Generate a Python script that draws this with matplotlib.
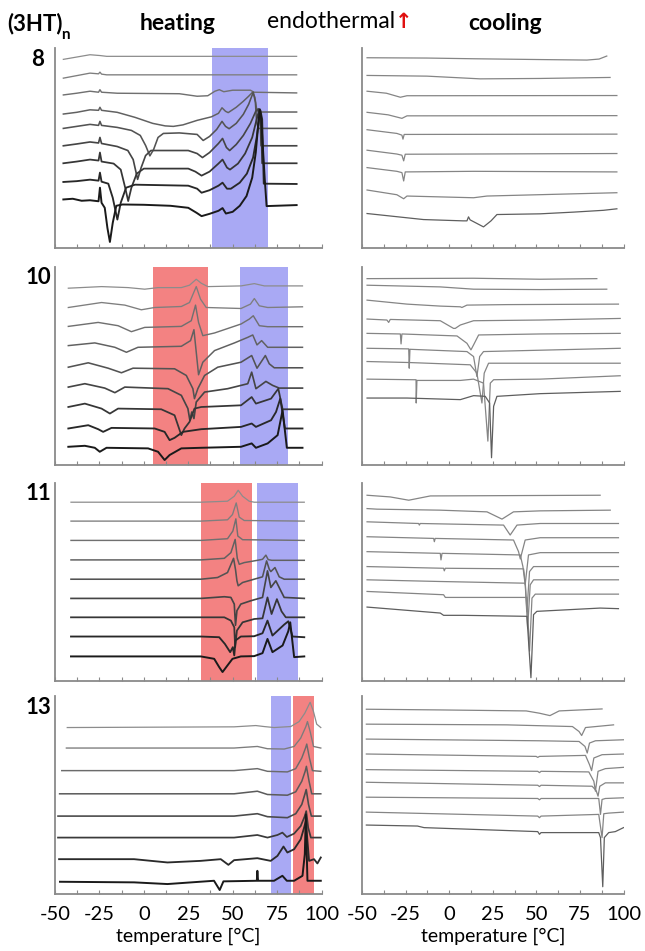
import numpy as np
import matplotlib
matplotlib.use("Agg")
import matplotlib.pyplot as plt

# DSC traces: each trace is a list of (temperature [C], heat flow [a.u., offset])
heat_8 = [
    [(-45.3,187.7),(-37.8,190.0),(-30.3,192.3),(-24.7,191.5),(-20.9,190.7),(86.0,190.7)],
    [(-45.3,169.0),(-37.8,171.5),(-30.3,174.0),(-25.5,173.3),(-24.7,175.0),(-23.8,173.0),(-20.9,172.3),(86.0,172.3)],
    [(-45.3,152.3),(-37.8,154.0),(-30.3,156.0),(-25.5,155.0),(-24.7,157.5),(-23.8,155.0),(-15.0,154.0),(20.0,153.5),
     (30.0,151.0),(36.0,151.5),(40.0,156.0),(42.5,157.5),(45.0,155.5),(50.0,157.0),(60.0,157.0),(62.0,155.0),(86.0,154.3)],
    [(-45.3,133.3),(-37.8,135.0),(-30.3,137.5),(-25.5,137.0),(-24.7,140.0),(-23.8,137.0),(-15.0,135.0),(-5.0,130.0),
     (5.0,124.0),(12.0,121.5),(16.6,121.0),(22.0,122.5),(30.0,127.0),(38.0,130.5),(42.0,134.0),(44.0,139.5),(46.0,136.0),
     (47.5,134.7),(52.0,140.0),(56.0,146.0),(59.0,151.0),(61.2,155.0),(62.5,150.0),(63.5,138.0),(64.5,135.3),(86.0,135.3)],
    [(-45.3,119.0),(-37.8,121.0),(-30.3,123.0),(-25.5,122.0),(-24.7,126.0),(-23.8,122.0),(-15.0,120.0),(-7.0,117.0),
     (-2.0,112.0),(1.0,102.0),(3.4,91.7),(5.5,98.0),(8.0,110.0),(11.0,114.0),(20.0,114.5),(30.0,113.0),(33.4,107.0),
     (37.0,111.0),(41.0,118.0),(44.0,126.0),(46.0,121.0),(48.0,118.7),(52.0,124.0),(56.0,133.0),(59.0,143.0),(61.6,155.0),
     (62.8,145.0),(63.5,125.0),(64.5,119.0),(86.0,119.0)],
    [(-45.3,101.7),(-37.8,103.5),(-30.3,105.5),(-25.5,104.5),(-24.7,110.0),(-23.8,104.0),(-15.0,101.0),(-9.0,97.0),
     (-6.0,88.0),(-3.5,68.3),(-1.5,80.0),(1.0,92.0),(4.0,97.0),(25.0,97.0),(30.0,94.0),(33.0,90.0),(37.0,95.0),(42.0,104.0),
     (44.3,109.0),(46.5,100.0),(48.3,97.0),(52.0,103.0),(56.0,112.0),(60.0,124.0),(63.0,136.0),(64.4,138.5),(65.5,130.0),
     (66.0,101.7),(86.0,101.7)],
    [(-45.3,84.3),(-37.8,86.0),(-30.3,88.0),(-25.5,87.0),(-24.7,95.0),(-23.8,86.0),(-17.0,84.0),(-13.0,78.0),(-10.5,60.0),
     (-8.8,46.7),(-7.0,60.0),(-4.0,74.0),(0.0,79.0),(25.0,79.0),(29.0,76.0),(32.5,72.0),(37.0,76.0),(42.0,84.0),(44.3,88.0),
     (46.8,80.0),(48.5,78.0),(53.0,84.0),(57.0,94.0),(61.0,110.0),(63.5,128.0),(65.0,138.0),(66.0,128.0),(66.6,84.3),(86.0,84.3)],
    [(-45.3,65.7),(-37.8,66.5),(-30.3,68.0),(-25.5,67.0),(-24.7,75.0),(-23.8,66.0),(-20.0,64.0),(-17.5,50.0),(-14.9,28.3),
     (-13.0,45.0),(-10.0,60.0),(-5.0,63.0),(25.0,62.0),(30.0,59.0),(32.5,55.0),(37.0,57.5),(42.0,62.0),(44.3,65.0),(46.8,59.0),
     (49.0,59.0),(54.0,65.0),(58.0,74.0),(61.5,90.0),(63.5,110.0),(65.0,130.0),(65.6,137.0),(66.6,128.0),(67.5,64.0),(86.0,63.7)],
    [(-45.3,48.3),(-40.0,49.0),(-35.0,47.0),(-30.3,47.5),(-25.5,46.5),(-24.7,60.0),(-23.8,45.0),(-22.0,40.0),(-20.5,20.0),
     (-19.1,6.0),(-17.5,25.0),(-15.5,42.0),(-12.0,43.3),(0.0,43.0),(15.0,42.0),(25.0,40.0),(29.7,35.0),(32.5,31.7),(37.0,34.0),
     (42.0,37.0),(44.3,39.7),(46.2,34.3),(50.0,36.0),(54.0,42.0),(57.8,51.7),(61.0,70.0),(63.0,95.0),(64.5,125.0),(65.3,138.0),
     (66.0,130.0),(68.0,70.0),(69.1,41.7),(86.0,42.7)],
]

cool_8 = [
    [(-47.1,189.3),(-12.7,189.0),(14.0,188.3),(52.2,187.5),(79.0,187.0),(86.0,188.0),(90.4,191.0)],
    [(-47.1,171.7),(-12.7,171.0),(17.8,168.3),(52.2,168.7),(92.3,169.7)],
    [(-47.1,156.0),(-36.0,154.0),(-28.0,150.0),(-24.2,151.5),(96.2,151.7)],
    [(-47.1,135.0),(-35.0,132.5),(-27.1,129.0),(-24.2,131.5),(96.2,131.7)],
    [(-47.1,117.7),(-30.0,114.0),(-27.1,112.3),(-26.5,108.3),(-25.8,113.0),(96.2,113.3)],
    [(-47.1,97.3),(-30.0,93.5),(-27.1,92.3),(-26.1,86.7),(-25.2,93.3),(96.2,94.0)],
    [(-47.1,80.0),(-30.0,76.3),(-27.1,75.0),(-26.1,66.7),(-25.2,75.7),(14.0,76.3),(96.2,75.7)],
    [(-47.1,57.7),(-30.0,53.0),(-26.1,49.0),(-24.2,51.7),(14.0,50.0),(21.7,51.7),(96.2,55.0)],
    [(-47.1,34.3),(-14.7,28.3),(8.0,27.0),(10.2,27.0),(11.1,31.0),(12.0,28.0),(19.7,21.0),(24.0,27.0),(27.4,33.3),
     (52.2,34.0),(71.3,35.7),(88.5,37.5),(96.2,39.0)],
]

heat_10 = [
    [(-42.5,177.7),(-23.8,179.3),(-8.9,178.3),(0.5,176.7),(8.0,178.3),(21.1,178.3),(25.7,180.7),(29.5,186.7),(32.3,182.7),
     (36.0,179.3),(54.7,180.0),(62.2,182.3),(67.8,180.0),(89.3,180.0)],
    [(-42.5,158.3),(-23.8,163.3),(-10.7,160.7),(-1.4,156.0),(6.1,158.3),(21.1,159.3),(25.7,163.3),(29.5,179.3),(31.9,166.7),
     (35.1,158.3),(54.7,157.3),(60.0,161.7),(62.2,167.3),(65.0,160.0),(69.7,158.3),(89.3,159.0)],
    [(-42.5,139.3),(-25.7,143.3),(-14.5,140.0),(-7.0,134.0),(0.5,138.3),(21.1,139.3),(26.7,145.0),(29.1,160.7),(30.8,143.3),
     (33.2,130.0),(39.8,132.7),(54.7,141.7),(59.4,146.7),(61.6,150.0),(65.0,140.0),(69.7,139.0),(89.3,139.0)],
    [(-42.5,120.0),(-27.6,122.7),(-16.3,118.3),(-9.8,113.3),(-3.3,118.3),(21.1,119.3),(26.3,125.0),(28.2,136.0),(29.7,110.0),
     (30.8,90.7),(33.2,103.3),(39.8,115.0),(51.0,122.7),(58.5,128.3),(61.3,130.7),(63.7,120.7),(66.3,125.0),(69.7,118.3),(89.3,118.3)],
    [(-42.5,98.3),(-31.3,102.7),(-20.1,97.3),(-12.6,92.7),(-6.1,97.3),(17.3,96.7),(23.9,90.0),(27.6,76.7),(28.5,66.7),
     (30.4,76.7),(34.2,90.0),(41.6,98.3),(54.7,103.3),(60.7,110.0),(63.7,97.3),(68.4,110.0),(70.6,101.7),(73.4,97.7),(89.3,97.7)],
    [(-42.5,78.3),(-33.2,81.7),(-22.0,77.3),(-16.3,72.7),(-10.7,78.3),(13.6,76.7),(21.1,70.0),(24.8,56.7),(25.9,45.0),
     (27.0,53.3),(28.2,46.7),(29.5,63.3),(34.2,73.3),(47.2,76.7),(58.5,81.7),(60.7,93.3),(63.1,76.7),(68.7,84.0),(72.5,80.0),
     (76.2,77.3),(89.3,77.3)],
    [(-42.5,58.3),(-33.2,61.7),(-23.8,56.7),(-19.1,51.7),(-14.5,56.7),(9.8,56.0),(17.3,50.0),(21.1,30.0),(22.9,36.7),
     (25.7,43.3),(28.5,56.7),(32.3,58.3),(54.7,60.0),(60.7,68.3),(63.1,61.7),(71.6,66.7),(75.7,76.7),(78.1,56.0),(89.3,56.0)],
    [(-42.5,36.7),(-31.3,40.0),(-25.7,36.0),(-22.9,33.3),(-18.2,37.3),(6.1,36.7),(11.7,33.3),(14.5,25.0),(17.3,27.3),
     (22.0,33.3),(32.3,36.0),(54.7,38.3),(60.7,41.7),(63.1,38.3),(71.6,45.0),(74.4,53.3),(76.8,66.7),(79.4,36.7),(89.3,36.7)],
    [(-42.5,18.3),(-33.2,19.3),(-27.6,17.3),(-24.8,13.3),(-21.0,17.3),(2.4,16.7),(8.0,13.3),(11.7,5.0),(14.5,10.0),
     (21.1,16.7),(32.3,17.3),(54.7,18.3),(60.7,21.7),(63.1,17.3),(69.7,21.7),(75.3,30.0),(78.1,55.0),(80.5,17.3),(89.3,17.3)],
]

cool_10 = [
    [(-47.1,187.3),(14.0,187.7),(52.2,186.7),(84.7,187.3)],
    [(-47.1,180.7),(-5.1,179.0),(14.0,176.7),(52.2,176.3),(90.4,176.7)],
    [(-47.1,165.7),(-24.2,161.7),(-5.1,159.7),(6.4,159.0),(7.3,158.3),(10.2,160.7),(33.1,161.2),(97.1,161.7)],
    [(-47.1,146.7),(-35.7,145.7),(-34.7,143.3),(-33.8,146.3),(-5.1,145.0),(2.5,137.3),(3.5,137.3),(6.4,140.7),(14.0,145.0),
     (52.2,145.7),(98.1,147.3)],
    [(-47.1,132.3),(-28.0,131.7),(-27.6,121.7),(-27.1,131.7),(4.5,129.7),(10.2,122.3),(12.5,115.7),(14.0,120.7),(16.9,130.7),
     (52.2,131.7),(98.1,132.3)],
    [(-47.1,117.3),(-23.2,116.7),(-22.9,97.3),(-22.5,116.3),(10.2,114.0),(14.0,109.0),(15.9,89.0),(17.5,109.0),(19.7,114.0),
     (98.1,117.3)],
    [(-47.1,104.0),(-23.2,103.0),(12.1,100.7),(15.9,92.3),(18.8,62.3),(20.1,92.3),(22.6,102.3),(98.1,102.3)],
    [(-47.1,86.3),(-20.4,85.7),(-19.0,85.7),(-18.9,62.3),(-18.5,85.0),(6.4,85.0),(14.0,86.3),(19.7,82.3),(22.2,24.0),
     (23.6,82.3),(25.5,85.7),(52.2,86.3),(98.1,89.7)],
    [(-47.1,67.3),(-24.2,67.3),(6.4,65.7),(14.0,69.7),(20.7,69.0),(23.2,62.3),(24.3,7.3),(25.5,59.0),(27.4,69.0),
     (52.2,71.7),(98.1,74.0)],
]

heat_11 = [
    [(-41.0,179.7),(32.1,179.7),(47.1,180.7),(50.9,185.7),(53.1,191.7),(55.6,185.7),(59.3,180.7),(62.1,179.7),(90.3,179.7)],
    [(-41.0,160.7),(32.1,160.7),(47.1,162.0),(49.9,167.3),(52.0,179.0),(53.7,164.7),(56.5,161.3),(90.3,160.7)],
    [(-41.0,141.3),(32.1,141.3),(47.1,143.0),(50.1,150.7),(51.8,163.0),(52.9,145.7),(55.6,142.0),(90.3,141.3)],
    [(-41.0,121.7),(32.1,121.7),(45.3,123.3),(49.0,129.0),(51.4,142.3),(52.6,123.3),(53.7,117.3),(56.5,119.0),(64.0,121.3),
     (66.8,122.3),(68.7,126.5),(70.0,122.0),(72.0,121.3),(90.3,121.3)],
    [(-41.0,102.3),(32.1,102.3),(41.5,104.0),(47.1,109.0),(50.5,123.3),(51.6,112.0),(52.4,100.7),(53.1,95.7),(55.6,99.0),
     (62.1,102.3),(66.8,104.7),(69.1,120.7),(70.6,112.3),(71.5,110.0),(73.8,114.0),(76.2,104.7),(79.0,102.3),(90.3,102.3)],
    [(-41.0,83.0),(32.1,83.0),(45.3,84.7),(49.0,84.0),(50.9,77.3),(51.6,56.0),(52.4,70.7),(54.6,77.3),(60.3,80.7),(66.8,84.0),
     (69.6,110.7),(71.5,94.0),(74.3,100.7),(77.1,90.7),(79.0,84.0),(90.3,83.0)],
    [(-41.0,64.0),(32.1,64.0),(45.3,64.0),(49.0,60.7),(50.9,54.0),(51.4,34.0),(52.4,50.7),(55.6,59.0),(62.1,62.3),(66.8,63.0),
     (69.6,84.0),(71.9,67.3),(74.9,82.3),(77.5,70.0),(79.9,64.0),(90.3,64.0)],
    [(-41.0,44.7),(32.1,44.7),(42.4,44.0),(45.6,37.3),(48.6,29.0),(50.1,34.0),(50.9,25.7),(51.6,40.7),(54.6,44.7),(62.1,45.0),
     (66.8,48.0),(69.6,60.7),(72.4,45.7),(79.0,56.7),(81.3,60.0),(83.7,44.7),(90.3,44.0)],
    [(-41.0,24.7),(32.1,24.7),(39.6,22.3),(42.4,14.0),(44.3,9.0),(47.1,15.7),(49.9,22.3),(54.6,24.7),(62.1,25.0),(66.8,28.0),
     (69.6,42.3),(72.4,29.0),(78.1,35.7),(81.3,50.0),(82.4,59.0),(84.6,24.0),(90.3,24.7)],
]

cool_11 = [
    [(-47.1,186.7),(-33.8,185.0),(-23.2,181.7),(-10.8,186.0),(86.6,186.7)],
    [(-47.1,173.3),(-41.4,172.7),(-5.1,171.7),(21.7,170.0),(30.3,162.7),(36.9,170.0),(52.2,171.0),(92.4,171.7)],
    [(-47.1,160.0),(-17.5,158.3),(-17.1,156.7),(-16.6,158.3),(31.2,156.7),(35.0,146.7),(38.9,156.7),(52.2,158.3),(97.1,158.3)],
    [(-47.1,145.0),(-8.9,143.3),(-8.5,140.0),(-8.0,143.3),(36.9,141.7),(39.8,130.0),(40.8,122.7),(43.6,141.7),(52.2,144.0),
     (97.1,144.0)],
    [(-47.1,130.0),(-5.1,128.3),(-4.7,121.7),(-4.1,128.3),(40.8,126.7),(42.3,115.0),(43.6,96.7),(45.5,126.7),(52.2,129.0),
     (97.1,129.0)],
    [(-47.1,115.0),(-3.2,113.3),(-2.8,110.7),(-2.2,113.3),(42.7,112.7),(43.6,100.0),(44.6,70.0),(46.1,110.0),(48.4,115.0),
     (97.1,115.0)],
    [(-47.1,101.7),(-5.1,100.0),(43.6,98.3),(45.0,53.3),(46.5,96.7),(48.4,101.7),(97.1,101.7)],
    [(-47.1,90.0),(-3.2,86.7),(-2.2,84.0),(44.6,84.0),(46.1,30.0),(47.5,83.3),(49.4,87.3),(97.1,87.3)],
    [(-47.1,74.3),(-5.1,68.3),(-3.2,66.0),(8.3,66.0),(44.6,65.0),(46.9,3.3),(48.4,66.7),(50.3,70.0),(86.6,73.3),(97.1,72.7)],
]

heat_13 = [
    [(-43.1,167.3),(50.8,168.0),(63.0,169.3),(67.7,168.3),(73.3,167.3),(82.7,168.3),(87.4,173.3),(90.6,181.7),(93.6,192.7),
     (95.5,183.3),(97.3,170.7),(99.6,167.3)],
    [(-43.6,146.7),(50.8,146.7),(63.9,148.3),(69.6,146.0),(79.0,145.7),(84.6,148.3),(88.3,156.7),(91.2,168.3),(92.1,173.3),
     (93.6,163.3),(95.5,148.3),(99.6,146.7)],
    [(-46.2,124.0),(50.8,124.0),(63.9,126.0),(69.6,123.3),(80.8,122.7),(85.5,126.0),(88.9,136.7),(91.0,146.7),(91.7,150.7),
     (93.2,136.7),(94.9,124.0),(99.6,123.3)],
    [(-47.4,100.7),(50.8,100.7),(63.9,103.3),(69.6,100.0),(80.8,99.3),(85.5,102.7),(88.9,113.3),(90.8,123.3),(91.5,128.3),
     (93.0,113.3),(94.5,100.7),(99.6,100.7)],
    [(-48.3,78.3),(50.8,78.3),(63.9,80.7),(69.6,77.7),(80.8,76.7),(85.5,80.7),(88.9,90.0),(90.6,100.0),(91.4,105.0),
     (92.7,90.0),(94.3,78.3),(99.6,78.3)],
    [(-48.3,56.7),(50.8,56.7),(63.9,59.3),(69.6,56.7),(75.2,59.3),(78.0,61.7),(80.5,57.3),(84.6,60.7),(88.3,68.3),(90.6,78.3),
     (91.4,83.3),(92.5,66.7),(94.0,56.7),(99.6,56.7)],
    [(-47.7,35.0),(-5.5,35.0),(13.3,31.7),(32.0,33.3),(43.3,35.0),(47.6,29.3),(50.8,34.0),(63.9,36.0),(71.4,33.3),(75.2,38.3),
     (78.6,47.7),(80.8,41.7),(84.6,45.0),(88.3,55.0),(90.2,66.7),(91.2,73.3),(92.1,53.3),(93.0,33.3),(95.8,35.0),(97.7,30.7),
     (99.6,36.7)],
    [(-47.2,12.3),(-5.5,11.7),(13.3,10.0),(39.5,13.3),(42.7,4.0),(44.8,12.7),(63.6,13.3),(63.9,23.3),(64.3,13.3),(73.3,13.3),
     (78.0,18.3),(80.5,13.3),(84.6,13.3),(89.3,18.3),(90.6,40.0),(91.2,80.0),(91.7,40.0),(92.1,13.3),(99.6,13.3)],
]

cool_13 = [
    [(-47.5,185.7),(-5.0,185.0),(44.2,184.0),(51.8,181.7),(57.8,179.3),(63.1,184.0),(87.7,186.0)],
    [(-47.5,170.7),(32.9,170.0),(70.7,168.3),(74.5,163.3),(76.0,159.3),(78.2,167.3),(94.3,170.0)],
    [(-47.5,155.7),(51.8,154.0),(74.5,153.3),(77.9,148.3),(79.2,141.7),(80.5,151.7),(83.9,154.0),(100.0,155.0)],
    [(-47.5,140.7),(49.9,138.3),(50.8,137.3),(51.8,138.3),(78.2,139.3),(80.5,130.0),(81.7,124.0),(83.0,136.7),(87.7,140.0),
     (100.0,140.7)],
    [(-47.5,125.0),(50.8,123.3),(51.8,122.0),(52.7,123.3),(80.1,122.7),(83.0,113.3),(83.9,103.3),(85.4,123.3),(89.6,126.0),
     (100.0,127.3)],
    [(-47.5,112.3),(50.8,109.3),(51.8,108.0),(52.7,109.3),(82.0,108.3),(84.3,104.0),(85.4,98.3),(86.4,108.3),(89.6,111.7),
     (100.0,111.7)],
    [(-47.5,97.3),(50.8,96.0),(51.8,94.7),(52.7,96.0),(85.8,96.0),(86.8,80.0),(87.7,95.0),(89.6,96.0),(100.0,96.7)],
    [(-47.5,82.3),(50.8,78.3),(51.8,76.7),(52.7,78.3),(85.8,80.0),(87.7,56.7),(88.7,80.7),(91.5,81.3),(100.0,82.3)],
    [(-47.5,69.3),(-18.2,68.3),(-14.4,66.7),(50.8,62.7),(51.8,60.0),(52.7,61.7),(85.8,61.7),(86.8,56.7),(88.1,7.3),(89.0,56.7),
     (91.5,61.7),(95.3,62.7),(100.0,66.7)],
]

# phase regions shaded on the heating curves (start, end, kind)
spans_8 = [(38.2, 69.7, "blue")]
spans_10 = [(5.1, 36.0, "red"), (54.0, 81.0, "blue")]
spans_11 = [(32.0, 60.7, "red"), (63.5, 87.0, "blue")]
spans_13 = [(71.3, 82.6, "blue"), (83.7, 96.0, "red")]

row_names = ["8", "10", "11", "13"]

SPAN_COLORS = {"red": "#f38282", "blue": "#a9a9f4"}
FONT = ["Lato", "DejaVu Sans"]
plt.rcParams["font.family"] = FONT

W, H = 645, 951
fig = plt.figure(figsize=(W / 100, H / 100), dpi=100)


def rect(x0, y0, x1, y1):
    return [x0 / W, 1 - y1 / H, (x1 - x0) / W, (y1 - y0) / H]


def draw_panel(ax, traces, spans, heating, bottom_row):
    for a, b, kind in spans:
        ax.axvspan(a, b, color=SPAN_COLORS[kind], lw=0, zorder=0)
    n = len(traces)
    for i, tr in enumerate(traces):
        t = [p[0] for p in tr]
        q = [p[1] for p in tr]
        if heating:
            g = 0.55 - 0.45 * i / (n - 1)
            lw = 0.9 + 0.5 * i / (n - 1)
        else:
            g = 0.52 - 0.15 * (i == n - 1)
            lw = 0.9
        ax.plot(t, q, color=(g, g, g), lw=lw, solid_joinstyle="round", zorder=2)
    ax.set_xlim(-50, 100)
    ax.set_ylim(0, 199)
    for s in ["top", "right"]:
        ax.spines[s].set_visible(False)
    for s in ["left", "bottom"]:
        ax.spines[s].set_color("#8a8a8a")
        ax.spines[s].set_linewidth(1.3)
    ax.set_yticks([])
    ticks = np.arange(-50, 101, 12.5)
    ax.set_xticks(ticks)
    ax.tick_params(axis="x", direction="in", length=3, width=0.8, color="#8a8a8a")
    if bottom_row:
        ax.set_xticklabels([str(int(v)) if v % 25 == 0 else "" for v in ticks], fontsize=14.5)
        ax.tick_params(axis="x", pad=9)
        ax.set_xlabel("temperature [°C]", fontsize=14, labelpad=3)
    else:
        ax.set_xticklabels([])


rows_y = [(48, 248), (267, 465), (483, 681), (696, 894)]
heat_sets = [heat_8, heat_10, heat_11, heat_13]
cool_sets = [cool_8, cool_10, cool_11, cool_13]
span_sets = [spans_8, spans_10, spans_11, spans_13]

for r in range(4):
    y0, y1 = rows_y[r]
    axl = fig.add_axes(rect(55, y0, 321.5, y1))
    draw_panel(axl, heat_sets[r], span_sets[r], True, r == 3)
    axr = fig.add_axes(rect(362, y0, 623.5, y1))
    draw_panel(axr, cool_sets[r], [], False, r == 3)
    fig.text(38 / W, 1 - (y0 + 11) / H, row_names[r], fontsize=16, fontweight="bold",
             ha="center", va="center")

# header
fig.text(7 / W, 1 - 24 / H, "(3HT)", fontsize=16, fontweight="bold", va="center", ha="left")
fig.text(61 / W, 1 - 35 / H, "n", fontsize=11, fontweight="bold", va="center", ha="left")
fig.text(178 / W, 1 - 24 / H, "heating", fontsize=16.5, fontweight="bold", va="center", ha="center")
fig.text(331 / W, 1 - 22 / H, "endothermal", fontsize=16.5, va="center", ha="center")
fig.text(404 / W, 1 - 22 / H, "\u2191", fontsize=15, fontweight="bold", color="#e01010",
         va="center", ha="center", family="DejaVu Sans")
fig.text(505 / W, 1 - 24 / H, "cooling", fontsize=16.5, fontweight="bold", va="center", ha="center")

fig.savefig("out.png", dpi=100)
